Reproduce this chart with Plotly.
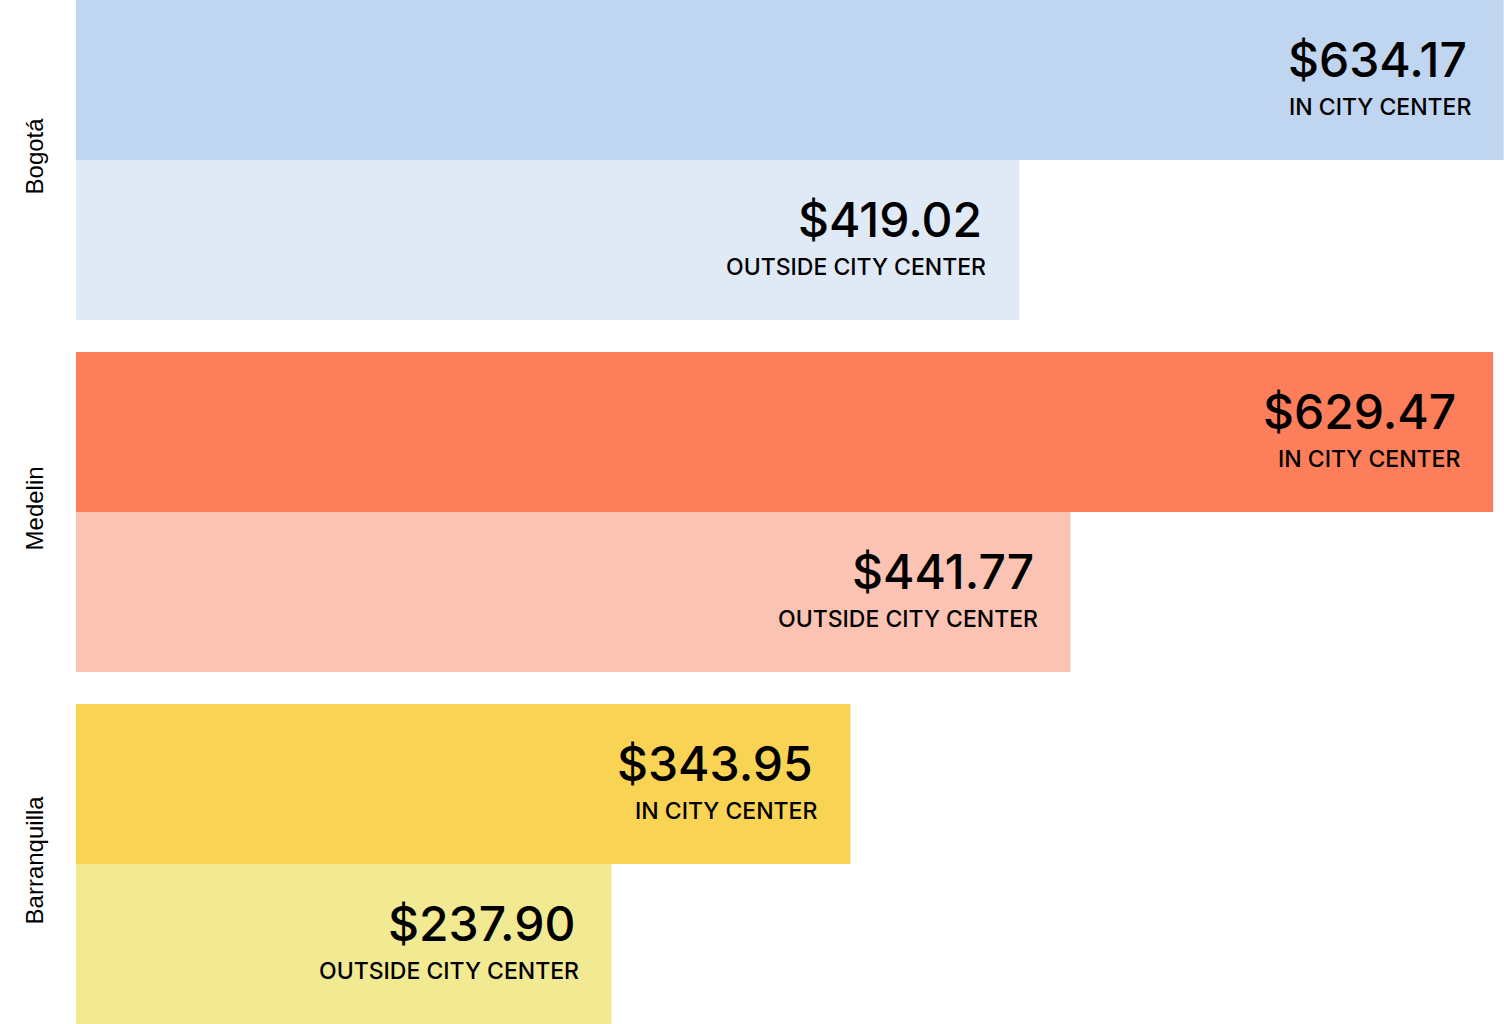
import plotly.graph_objects as go

cities = ["Bogotá", "Medelin", "Barranquilla"]
in_center = [634.17, 629.47, 343.95]
outside_center = [419.02, 441.77, 237.90]
in_colors = ["#c0d5ef", "#fc7e5a", "#f9d354"]
out_colors = ["#e0eaf6", "#fbc3b3", "#f1ea93"]
in_label = "IN CITY CENTER"
out_label = "OUTSIDE CITY CENTER"

fig = go.Figure()
fig.add_trace(go.Bar(y=cities, x=in_center, orientation="h", name=in_label,
                     marker=dict(color=in_colors, line=dict(width=0)), hoverinfo="skip"))
fig.add_trace(go.Bar(y=cities, x=outside_center, orientation="h", name=out_label,
                     marker=dict(color=out_colors, line=dict(width=0)), hoverinfo="skip"))

# value + label inside the right end of each bar
annos = []
for vals, label, shift in [(in_center, in_label, 80), (outside_center, out_label, -80)]:
    for city, v in zip(cities, vals):
        annos.append(dict(x=v, y=city, xref="x", yref="y", text=f"${v:.2f}",
                          showarrow=False, xanchor="right", yanchor="middle",
                          xshift=-35, yshift=shift + 21,
                          font=dict(family="Inter", size=48, color="#000", weight=500)))
        annos.append(dict(x=v, y=city, xref="x", yref="y", text=label,
                          showarrow=False, xanchor="right", yanchor="middle",
                          xshift=-31, yshift=shift - 27,
                          font=dict(family="Inter", size=23, color="#000", weight=500)))

fig.update_layout(
    width=1504, height=1024,
    margin=dict(l=76, r=0, t=0, b=0),
    paper_bgcolor="white", plot_bgcolor="white",
    barmode="group", bargap=32 / 352, bargroupgap=0,
    showlegend=False,
    annotations=annos,
    xaxis=dict(range=[0, 634.3], visible=False),
    yaxis=dict(range=[2.5 - 16 / 352, -0.5 + 16 / 352], tickangle=-90,
               showgrid=False, zeroline=False, showline=False, ticks="",
               tickfont=dict(family="Liberation Sans", size=24, color="#000"),
               ticklabelstandoff=27, automargin=False),
)

fig.write_html("out.html", config={"displayModeBar": False},
               post_script="document.body.style.margin='0';")
